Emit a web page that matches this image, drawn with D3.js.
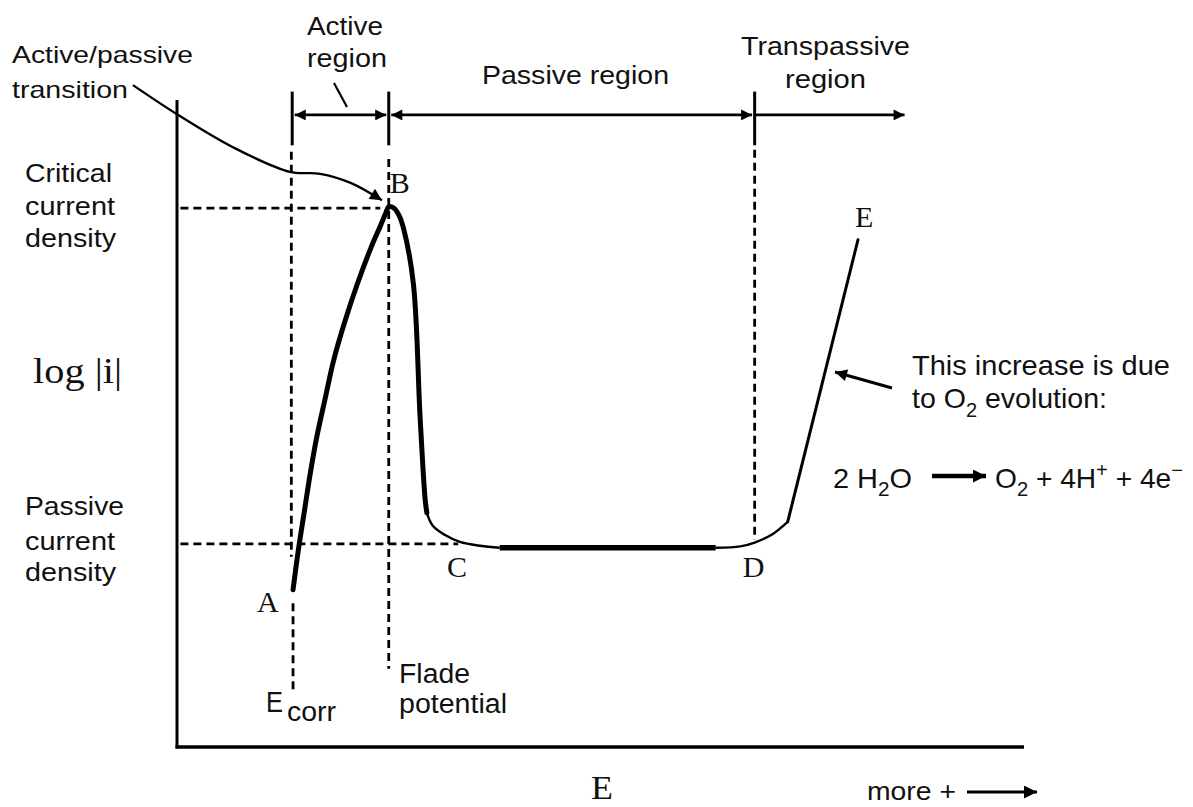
<!DOCTYPE html>
<html><head><meta charset="utf-8">
<script src="https://cdn.jsdelivr.net/npm/d3@7"></script>
<style>html,body{margin:0;padding:0;background:#fff;} svg{display:block;}</style>
</head><body><svg id="chart" width="1193" height="807"></svg>
<script>
// ---- data (arbitrary units: E 0..100, log|i| 0..100) ----
const activeE    = [13.7, 14.3, 15.0, 15.7, 16.5, 17.5, 18.5, 19.8, 21.3, 23.0, 24.0, 24.7, 25.0, 25.6, 26.2, 26.7, 27.9, 28.7, 29.3, 29.5];
const activeLogI = [24.3, 30.2, 36.1, 42.0, 47.9, 53.9, 59.8, 65.7, 71.6, 77.5, 80.5, 82.7, 83.5, 83.3, 82.2, 80.4, 71.7, 51.0, 38.2, 36.2];
const bendCE     = [29.5, 30.2, 31.6, 33.4, 35.8, 38.1];
const bendCLogI  = [36.2, 34.2, 32.8, 31.7, 31.1, 30.8];
const passiveE   = [38.1, 63.6];
const passiveLogI= [30.8, 30.8];
const bendDE     = [63.6, 66.5, 68.2, 70.2, 72.1];
const bendDLogI  = [30.8, 31.0, 31.6, 32.8, 34.8];
const transE     = [72.1, 80.4];
const transLogI  = [34.8, 78.4];
const eCorr = 13.5, eFlade = 25.0, eTrans = 68.2, eEnd = 85.9;
const iCritical = 83.3, iPassive = 31.4;
const pointNames = ["A", "B", "C", "D", "E"];

// ---- scales ----
const x = d3.scaleLinear().domain([0, 100]).range([177, 1024]);
const y = d3.scaleLinear().domain([0, 100]).range([747, 100]);

const svg = d3.select("#chart");
const SANS = "'Liberation Sans', Arial, Helvetica, sans-serif";
const SERIF = "'Liberation Serif', 'Times New Roman', serif";
const INK = "#111";

const defs = svg.append("defs");
function marker(id, w, h) {
  defs.append("marker").attr("id", id).attr("viewBox", "0 0 10 10")
    .attr("refX", 10).attr("refY", 5).attr("markerUnits", "userSpaceOnUse")
    .attr("markerWidth", w).attr("markerHeight", h).attr("orient", "auto-start-reverse")
    .append("path").attr("d", "M0,0L10,5L0,10z").attr("fill", "#000");
}
marker("headR", 13, 11);
marker("headS", 14, 12);
marker("headB", 16, 13);

const zip = (a, b) => a.map((v, i) => [v, b[i]]);
const line = d3.line().x(d => x(d[0])).y(d => y(d[1])).curve(d3.curveCatmullRom.alpha(0.5));
const lineLin = d3.line().x(d => x(d[0])).y(d => y(d[1]));

// ---- axes (plain L-shaped frame) ----
svg.append("line").attr("x1", x(0)).attr("x2", x(0)).attr("y1", y(100)).attr("y2", y(0) + 1.5)
  .attr("stroke", "#000").attr("stroke-width", 3);
svg.append("line").attr("x1", x(0) - 1.5).attr("x2", x(100)).attr("y1", y(0)).attr("y2", y(0))
  .attr("stroke", "#000").attr("stroke-width", 3.5);

// ---- dashed reference lines ----
const dash = (x1, y1, x2, y2) => svg.append("line")
  .attr("x1", x(x1)).attr("y1", y(y1)).attr("x2", x(x2)).attr("y2", y(y2))
  .attr("stroke", "#000").attr("stroke-width", 2.8).attr("stroke-dasharray", "8,5");
dash(eCorr, 92.0, eCorr, 29.4);
dash(eCorr + 0.2, 22.2, eCorr + 0.2, 8.8);
dash(eFlade, 90.9, eFlade, 12.1);
dash(eTrans, 92.3, eTrans, 32.0);
dash(0.4, iCritical, 24.0, iCritical);
dash(0.4, iPassive, 33.2, iPassive);

// ---- region bars and arrows ----
[eCorr + 0.1, eFlade, eTrans].forEach(e => {
  svg.append("line").attr("x1", x(e)).attr("x2", x(e)).attr("y1", y(101.3)).attr("y2", y(93.0))
    .attr("stroke", "#000").attr("stroke-width", 3);
});
const yReg = 97.7;
const regArrow = (a, b, both) => svg.append("line")
  .attr("x1", x(a)).attr("x2", x(b)).attr("y1", y(yReg)).attr("y2", y(yReg))
  .attr("stroke", "#000").attr("stroke-width", 2.6)
  .attr("marker-end", "url(#headR)").attr("marker-start", both ? "url(#headR)" : null);
regArrow(eCorr + 0.4, eFlade - 0.3, true);
regArrow(eFlade + 0.3, eTrans - 0.3, true);
regArrow(eTrans, eEnd, false);
// leader for "Active region"
svg.append("line").attr("x1", 334).attr("y1", 83).attr("x2", 347).attr("y2", 107)
  .attr("stroke", "#000").attr("stroke-width", 2.2);

// ---- polarization curve ----
svg.append("path").datum(zip(activeE, activeLogI)).attr("d", line)
  .attr("fill", "none").attr("stroke", "#000").attr("stroke-width", 5).attr("stroke-linecap", "round").attr("stroke-linejoin", "round");
svg.append("path").datum(zip(bendCE, bendCLogI)).attr("d", line)
  .attr("fill", "none").attr("stroke", "#000").attr("stroke-width", 2.4);
svg.append("path").datum(zip(passiveE, passiveLogI)).attr("d", lineLin)
  .attr("fill", "none").attr("stroke", "#000").attr("stroke-width", 5.5);
svg.append("path").datum(zip(bendDE, bendDLogI)).attr("d", line)
  .attr("fill", "none").attr("stroke", "#000").attr("stroke-width", 2.4);
svg.append("path").datum(zip(transE, transLogI)).attr("d", lineLin)
  .attr("fill", "none").attr("stroke", "#000").attr("stroke-width", 3).attr("stroke-linecap", "round");

// ---- annotation arrows ----
const transitionPath = [[-5.2, 102.3], [0, 97.8], [6.6, 92.7], [13.3, 88.9], [16.9, 88.6], [20.5, 87.2], [24.2, 84.5]];
svg.append("path").datum(transitionPath).attr("d", line)
  .attr("fill", "none").attr("stroke", "#000").attr("stroke-width", 2.3).attr("marker-end", "url(#headS)");
svg.append("line").attr("x1", 892).attr("y1", 388).attr("x2", 835).attr("y2", 372)
  .attr("stroke", "#000").attr("stroke-width", 3).attr("marker-end", "url(#headS)");
svg.append("line").attr("x1", 932).attr("y1", 476).attr("x2", 986).attr("y2", 476)
  .attr("stroke", "#000").attr("stroke-width", 4.5).attr("marker-end", "url(#headB)");
svg.append("line").attr("x1", 967).attr("y1", 792).attr("x2", 1037).attr("y2", 792)
  .attr("stroke", "#000").attr("stroke-width", 3).attr("marker-end", "url(#headB)");

// ---- texts ----
function txt(s, px, py, size, len, family) {
  const t = svg.append("text").attr("x", px).attr("y", py).attr("font-size", size)
    .attr("font-family", family || SANS).attr("fill", INK).text(s);
  if (len) t.attr("textLength", len).attr("lengthAdjust", "spacingAndGlyphs");
  return t;
}
txt("Active/passive", 12, 63, 24, 181);
txt("transition", 12, 98, 24, 116);
txt("Active", 307, 35, 25, 76);
txt("region", 307, 67, 25, 80);
txt("Passive region", 482, 84, 25, 187);
txt("Transpassive", 741, 55, 25, 169);
txt("region", 785, 88, 25, 81);
txt("Critical", 25, 182, 25, 87);
txt("current", 25, 215, 25, 90);
txt("density", 25, 247, 25, 91);
txt("log |i|", 33, 383, 36, 89, SERIF);
txt("Passive", 25, 515, 25, 99);
txt("current", 25, 550, 25, 90);
txt("density", 25, 581, 25, 91);
txt("Flade", 399, 683, 27, 71);
txt("potential", 399, 713, 27, 108);
txt("E", 266, 712, 29, 17);
txt("corr", 287, 721, 27, 49);
txt("This increase is due", 912, 375, 28.5, 258);
const t2 = svg.append("text").attr("x", 912).attr("y", 408).attr("font-size", 28.5)
  .attr("font-family", SANS).attr("fill", INK)
  .attr("textLength", 195).attr("lengthAdjust", "spacingAndGlyphs");
t2.append("tspan").text("to O");
t2.append("tspan").attr("font-size", 20).attr("dy", 9).text("2");
t2.append("tspan").attr("dy", -9).text(" evolution:");
const eq1 = svg.append("text").attr("x", 833).attr("y", 488).attr("font-size", 28)
  .attr("font-family", SANS).attr("fill", INK)
  .attr("textLength", 79).attr("lengthAdjust", "spacingAndGlyphs");
eq1.append("tspan").text("2 H");
eq1.append("tspan").attr("font-size", 20).attr("dy", 8).text("2");
eq1.append("tspan").attr("dy", -8).text("O");
const eq2 = svg.append("text").attr("x", 995).attr("y", 488).attr("font-size", 28)
  .attr("font-family", SANS).attr("fill", INK)
  .attr("textLength", 188).attr("lengthAdjust", "spacingAndGlyphs");
eq2.append("tspan").text("O");
eq2.append("tspan").attr("font-size", 20).attr("dy", 8).text("2");
eq2.append("tspan").attr("dy", -8).text(" + 4H");
eq2.append("tspan").attr("font-size", 20).attr("dy", -11).text("+");
eq2.append("tspan").attr("dy", 11).text(" + 4e");
eq2.append("tspan").attr("font-size", 20).attr("dy", -11).text("\u2212");
txt("more +", 867, 800, 25, 89);

// point labels (serif) placed relative to curve key points
const keyPts = [
  [x(activeE[0]) - 36, y(activeLogI[0]) + 22],
  [x(activeE[12]) + 1, y(activeLogI[12]) - 14],
  [x(bendCE[3]) - 13, y(bendCLogI[3]) + 35],
  [x(eTrans) - 12, y(passiveLogI[1]) + 29],
  [x(transE[1]) - 3, y(transLogI[1]) - 13]
];
pointNames.forEach((n, i) => txt(n, keyPts[i][0], keyPts[i][1], 30, null, SERIF));
txt("E", 591, 799, 33, 22, SERIF);
</script></body></html>
